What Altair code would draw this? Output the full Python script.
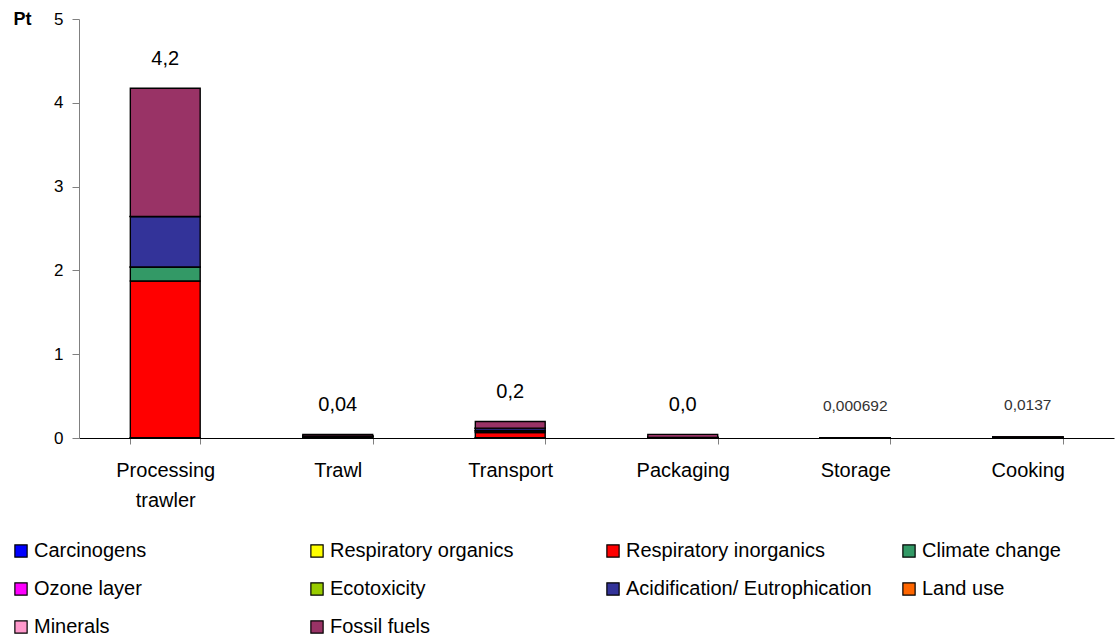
import altair as alt
import pandas as pd

categories = ["Processing trawler", "Trawl", "Transport", "Packaging", "Storage", "Cooking"]

series = ["Carcinogens", "Respiratory organics", "Respiratory inorganics", "Climate change",
          "Ozone layer", "Ecotoxicity", "Acidification/ Eutrophication", "Land use",
          "Minerals", "Fossil fuels"]
colors = ["#0000FF", "#FFFF00", "#FF0000", "#339966", "#FF00FF", "#99CC00", "#333399",
          "#FF6600", "#FF99CC", "#993366"]

carcinogens = [0.003, 0.0005, 0.004, 0.0005, 0.00002, 0.001]
resp_organics = [0.001, 0.0001, 0.0003, 0.0001, 0.000005, 0.0001]
resp_inorganics = [1.87, 0.012, 0.06, 0.003, 0.0003, 0.006]
climate_change = [0.165, 0.005, 0.02, 0.002, 0.0001, 0.003]
ozone_layer = [0.0005, 0.0001, 0.0002, 0.0001, 0.000005, 0.0001]
ecotoxicity = [0.002, 0.0005, 0.005, 0.0005, 0.00002, 0.0005]
acidification = [0.60, 0.006, 0.025, 0.001, 0.0001, 0.002]
land_use = [0.002, 0.0003, 0.002, 0.0005, 0.00001, 0.0003]
minerals = [0.001, 0.0002, 0.001, 0.0003, 0.00001, 0.0002]
fossil_fuels = [1.53, 0.018, 0.08, 0.035, 0.0001, 0.0007]

label_text = ["4,2", "0,04", "0,2", "0,0", "0,000692", "0,0137"]
label_big = [True, True, True, True, False, False]

values = [carcinogens, resp_organics, resp_inorganics, climate_change, ozone_layer,
          ecotoxicity, acidification, land_use, minerals, fossil_fuels]

rows = []
for si, (s, vals) in enumerate(zip(series, values)):
    for c, v in zip(categories, vals):
        rows.append({"cat": c, "series": s, "value": v, "ord": si})
df = pd.DataFrame(rows)

totals = [sum(v[i] for v in values) for i in range(len(categories))]
lab = pd.DataFrame({"cat": categories, "total": totals, "text": label_text, "big": label_big})

FONT = "Liberation Sans"

xenc = alt.X("cat:N", sort=categories, title=None,
             scale=alt.Scale(paddingInner=0.595, paddingOuter=0.2975),
             axis=alt.Axis(labelAngle=0, labelFontSize=20, labelColor="black", labelFont=FONT,
                           labelPadding=16, labelLineHeight=30, labelBaseline="top",
                           labelExpr="datum.value == 'Processing trawler' ? ['Processing', 'trawler'] : datum.label",
                           tickBand="extent", tickSize=6, tickColor="#808080",
                           domainColor="black", domainWidth=1))

bars = alt.Chart(df).mark_bar(stroke="black", strokeWidth=1.4).encode(
    x=xenc,
    y=alt.Y("value:Q", stack="zero",
            scale=alt.Scale(domain=[0, 5], nice=False),
            axis=alt.Axis(values=[0, 1, 2, 3, 4, 5], format="d", grid=False, title="Pt",
                          titleAngle=0, titleFont=FONT, titleFontSize=18, titleFontWeight="bold",
                          titleAlign="left", titleBaseline="middle", titleX=-66, titleY=0,
                          titleColor="black",
                          labelFont=FONT, labelFontSize=17, labelColor="black",
                          labelPadding=9, tickSize=7, tickColor="#808080",
                          domainColor="#808080")),
    color=alt.Color("series:N", scale=alt.Scale(domain=series, range=colors),
                    legend=alt.Legend(title=None, orient="none", legendX=-68, legendY=522,
                                      columns=4, direction="horizontal", gridAlign="all",
                                      columnPadding=27, rowPadding=18, symbolType="square",
                                      symbolSize=150, symbolStrokeColor="black",
                                      symbolStrokeWidth=1.2, labelFont=FONT, labelFontSize=20,
                                      labelColor="black", labelLimit=400, labelOffset=3,
                                      padding=0)),
    order=alt.Order("ord:Q", sort="ascending"),
)

big_labels = alt.Chart(lab).transform_filter("datum.big").mark_text(
    font=FONT, fontSize=20, dy=-29, baseline="middle", color="black"
).encode(x=alt.X("cat:N", sort=categories), y=alt.Y("total:Q"), text="text:N")

small_labels = alt.Chart(lab).transform_filter("!datum.big").mark_text(
    font=FONT, fontSize=15.5, dy=-32, baseline="middle", color="#333333"
).encode(x=alt.X("cat:N", sort=categories), y=alt.Y("total:Q"), text="text:N")

chart = alt.layer(bars, big_labels, small_labels).properties(
    width=1035, height=419,
    padding={"left": 79, "top": 19, "right": 6, "bottom": 199},
    autosize=alt.AutoSizeParams(type="none"),
    background="white",
).configure_view(stroke=None)

chart.save("out.html", embed_options={"renderer": "svg", "actions": False})
